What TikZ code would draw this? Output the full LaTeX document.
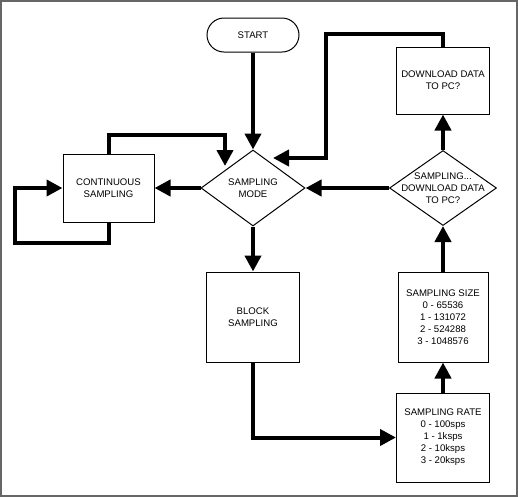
\documentclass[tikz,border=0pt]{standalone}
\usepackage{fontspec}
\setmainfont{Liberation Sans}
\usetikzlibrary{arrows.meta,shapes.geometric}
\tikzset{every picture/.style={line width=0.75pt}}

\begin{document}
\begin{tikzpicture}[x=0.75pt,y=0.75pt,yscale=-1,xscale=1,
  txt/.style={align=center,font=\fontsize{7.2}{9}\selectfont},
  box/.style={draw,txt,inner sep=0.75pt},
  startbox/.style={box,rounded corners=12.75pt,minimum width=69pt,minimum height=25.5pt},
  decision/.style={draw,diamond,inner sep=0pt},
  flow/.style={line width=3pt,-{Triangle[length=12pt,width=12pt]}}]
\useasboundingbox (0,0) rectangle (518,497);
\draw [color=black!60,line width=1.5pt] (1,1) rectangle (517,496);
% left column
\draw (253,35) node [startbox] (start) {START};
\draw (253,188) node [decision,minimum width=78pt,minimum height=57pt,label={[txt]center:SAMPLING\\MODE}] (mode) {};
\draw (108.5,188) node [box,minimum width=68.25pt,minimum height=51pt] (cont) {CONTINUOUS\\SAMPLING};
\draw (253,317) node [box,minimum width=69.75pt,minimum height=67.5pt] (block) {BLOCK\\SAMPLING};
% right column
\draw (443,80.5) node [box,minimum width=69.75pt,minimum height=50.25pt] (dl) {DOWNLOAD DATA\\TO PC?};
\draw (443,188) node [decision,minimum width=80.25pt,minimum height=56.25pt,label={[txt]center:SAMPLING...\\DOWNLOAD DATA\\TO PC?}] (ask) {};
\draw (443,317) node [box,minimum width=67.5pt,minimum height=67.5pt] (size) {SAMPLING SIZE\\0 - 65536\\1 - 131072\\2 - 524288\\3 - 1048576};
\draw (443,437.5) node [box,minimum width=69.75pt,minimum height=66.75pt] (rate) {SAMPLING RATE\\0 - 100sps\\1 - 1ksps\\2 - 10ksps\\3 - 20ksps};
% loop points
\coordinate (contup) at (225,135);
\coordinate (modeul) at (225,166);
\coordinate (selfdl) at (15,243);
\coordinate (dltop) at (326,34);
\coordinate (modeur) at (273,158);
% connectors
\draw [flow] (start) -- (mode);
\draw [flow] (mode.west) -- (cont.east);
\draw [flow] (cont.north) |- (contup) -- (modeul);
\draw [flow] (cont.south) |- (selfdl) |- (cont.west);
\draw [flow] (mode.south) -- (block.north);
\draw [flow] (block.south) |- (rate.west);
\draw [flow] (rate) -- (size);
\draw [flow] (size) -- (ask.south);
\draw [flow] (ask.north) -- (dl);
\draw [flow] (ask.west) -- (mode.east);
\draw [flow] (dl.north) |- (dltop) |- (modeur);
\end{tikzpicture}
\end{document}
